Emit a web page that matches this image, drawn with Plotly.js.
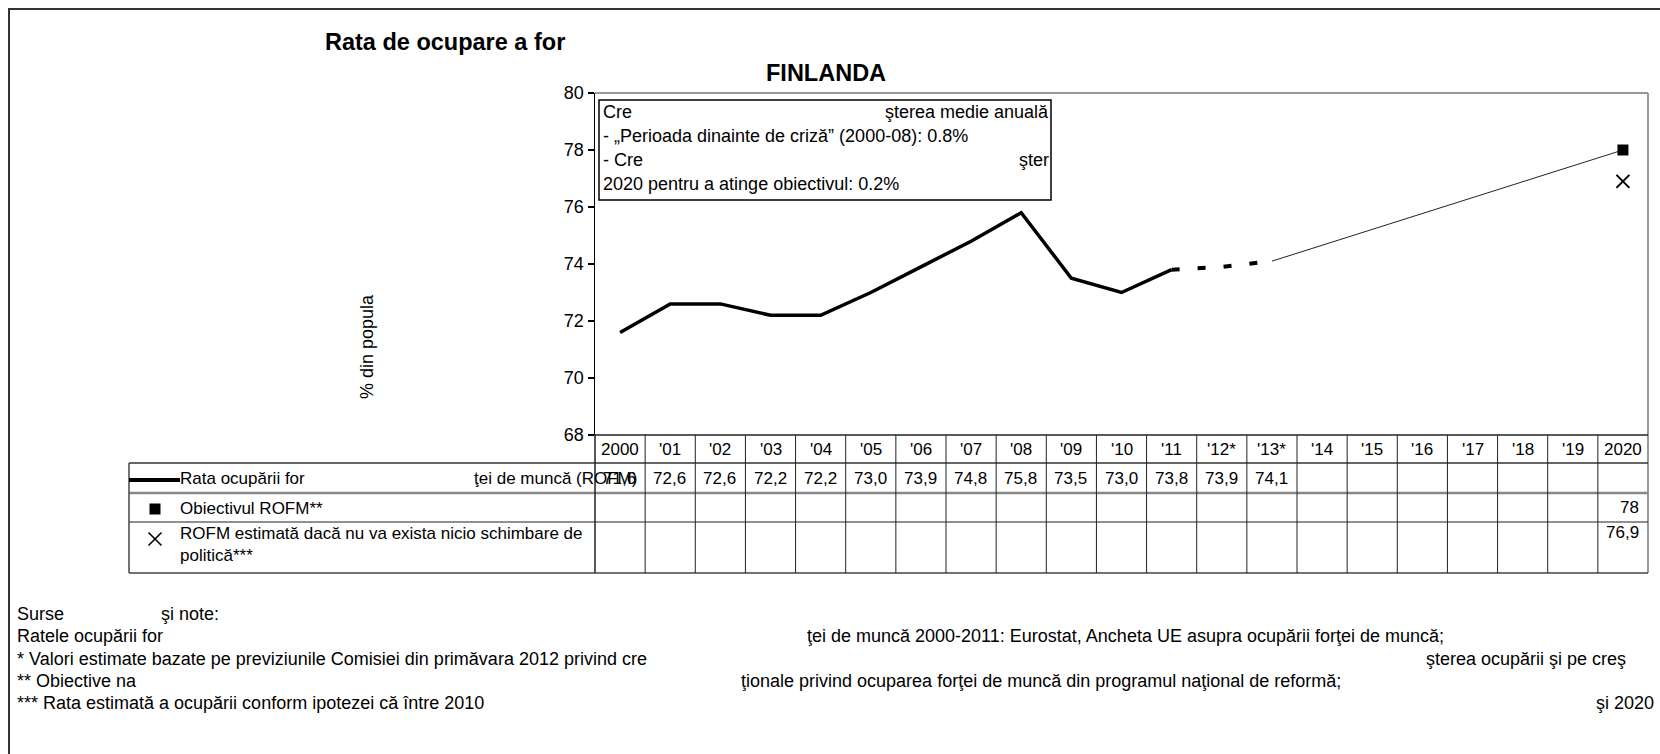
<!DOCTYPE html>
<html>
<head>
<meta charset="utf-8">
<script src="https://cdn.plot.ly/plotly-3.0.1.min.js"></script>
<style>html,body{margin:0;padding:0;background:#fff;}#chart{width:1660px;height:754px;}</style>
</head>
<body>
<div id="chart"></div>
<script>
// ---------- data ----------
const categories = ["2000","'01","'02","'03","'04","'05","'06","'07","'08","'09","'10","'11","'12*","'13*","'14","'15","'16","'17","'18","'19","2020"];
const actualCats = ["2000","'01","'02","'03","'04","'05","'06","'07","'08","'09","'10","'11"];
const actualRate = [71.6,72.6,72.6,72.2,72.2,73.0,73.9,74.8,75.8,73.5,73.0,73.8];
const estimateCats = ["'11","'12*","'13*"];
const estimateRate = [73.8,73.9,74.1];
const pathCats = ["'13*","2020"];
const pathRate = [74.1,78];
const targetCat = "2020";
const targetRate = 78;
const noChangeRate = 76.9;
const tableRate = ["71,6","72,6","72,6","72,2","72,2","73,0","73,9","74,8","75,8","73,5","73,0","73,8","73,9","74,1"];
const tableTarget = "78";
const tableNoChange = "76,9";
const yTicks = [68,70,72,74,76,78,80];

// ---------- geometry helpers (pixel -> paper) ----------
const W = 1660, H = 754;
const L = 595, R = 1648, T = 93, B = 435;
const px = x => (x - L) / (R - L);
const py = y => (B - y) / (B - T);
const FONT = "Liberation Sans, Arial, sans-serif";
const n = categories.length;
const targetIdx = categories.indexOf(targetCat);

const traces = [
  {x: actualCats, y: actualRate, type: 'scatter', mode: 'lines',
   line: {color: '#000', width: 3.5}, hoverinfo: 'skip'},
  {x: estimateCats, y: estimateRate, type: 'scatter', mode: 'lines',
   line: {color: '#000', width: 4, dash: '8px,18px'}, hoverinfo: 'skip'},
  {x: pathCats, y: pathRate, type: 'scatter', mode: 'lines',
   line: {color: '#222', width: 1}, hoverinfo: 'skip'},
  {x: [targetCat], y: [targetRate], type: 'scatter', mode: 'markers',
   marker: {symbol: 'square', size: 11, color: '#000'}, hoverinfo: 'skip'},
  {x: [targetCat], y: [noChangeRate], type: 'scatter', mode: 'markers',
   marker: {symbol: 'x-thin', size: 13, color: '#000', line: {color: '#000', width: 2}}, hoverinfo: 'skip'}
];

const shapes = [];
function hline(x0, x1, y, color, width) {
  shapes.push({type: 'line', xref: 'paper', yref: 'paper', x0: px(x0), x1: px(x1), y0: py(y), y1: py(y),
               line: {color: color, width: width}});
}
function vline(x, y0, y1, color, width) {
  shapes.push({type: 'line', xref: 'paper', yref: 'paper', x0: px(x), x1: px(x), y0: py(y0), y1: py(y1),
               line: {color: color, width: width}});
}
// outer frame
shapes.push({type: 'rect', xref: 'paper', yref: 'paper', x0: px(9), x1: px(1680), y0: py(780), y1: py(9),
             line: {color: '#333', width: 2}});
// plot frame (top + right gray)
hline(L, R, T, '#999', 2);
vline(R, T, 573, '#999', 2);
// table
const rowHeader = 435, row1 = 463, row2 = 493, row3 = 522, rowEnd = 573;
const tableLeft = 129;
hline(L, R, rowHeader, '#222', 1.5);
hline(tableLeft, R, row1, '#333', 1.5);
hline(tableLeft, R, row2, '#888', 2.5);
hline(tableLeft, R, row3, '#222', 1.2);
hline(tableLeft, R, rowEnd, '#444', 1.5);
vline(tableLeft, row1, rowEnd, '#444', 1.5);
for (let i = 0; i < n; i++) {
  const xx = L + (R - L) * i / n;
  vline(xx, rowHeader, rowEnd, '#222', i === 0 ? 1.5 : 1);
}
// annotation box
shapes.push({type: 'rect', xref: 'paper', yref: 'paper', x0: px(599), x1: px(1051), y0: py(200), y1: py(100),
             line: {color: '#000', width: 1.5}, fillcolor: '#fff'});
// legend symbols
hline(tableLeft, 180, 480, '#000', 4);
shapes.push({type: 'rect', xref: 'paper', yref: 'paper', x0: px(149.5), x1: px(160.5), y0: py(514.5), y1: py(503.5),
             line: {width: 0}, fillcolor: '#000'});
shapes.push({type: 'line', xref: 'paper', yref: 'paper', x0: px(148.5), x1: px(161.5), y0: py(532.5), y1: py(545.5), line: {color: '#000', width: 1.6}});
shapes.push({type: 'line', xref: 'paper', yref: 'paper', x0: px(148.5), x1: px(161.5), y0: py(545.5), y1: py(532.5), line: {color: '#000', width: 1.6}});

const ann = [];
function txt(text, x, y, opts) {
  ann.push(Object.assign({text: text, xref: 'paper', yref: 'paper', x: px(x), y: py(y), showarrow: false,
    xanchor: 'left', yanchor: 'middle', font: {family: FONT, size: 17, color: '#000'}}, opts || {}));
}
function cell(text, idx, y, anchor) {
  ann.push({text: text, xref: 'x', yref: 'paper', x: idx, y: py(y), showarrow: false,
            xanchor: anchor, xshift: anchor === 'right' ? 18 : 0, yanchor: 'middle',
            font: {family: FONT, size: 17, color: '#000'}});
}
// header labels and table values (x = category index on the category axis)
categories.forEach((c, i) => cell(c, i, 449, 'center'));
tableRate.forEach((v, i) => cell(v, i, 478, 'right'));
cell(tableTarget, targetIdx, 507, 'right');
cell(tableNoChange, targetIdx, 532, 'right');
// legend texts
txt("Rata ocupării for", 178, 478);
txt("ţei de muncă (ROFM)", 472, 478);
txt("Obiectivul ROFM**", 178, 508);
txt("ROFM estimată dacă nu va exista nicio schimbare de<br>politică***", 178, 544, {align: 'left'});
// box texts
const F18 = {family: FONT, size: 18, color: '#000'};
txt("Cre", 601, 112, {font: F18});
txt("şterea medie anuală", 1051, 112, {xanchor: 'right', font: F18});
txt("- „Perioada dinainte de criză” (2000-08): 0.8%", 601, 136, {font: F18});
txt("- Cre", 601, 160, {font: F18});
txt("şter", 1051, 160, {xanchor: 'right', font: F18});
txt("2020 pentru a atinge obiectivul: 0.2%", 601, 184, {font: F18});
// subtitle and y title
txt("<b>FINLANDA</b>", 826, 73, {xanchor: 'center', font: {family: FONT, size: 23.5, color: '#000'}});
txt("% din popula", 367, 347, {xanchor: 'center', textangle: -90, font: F18});
// footnotes
txt("Surse", 15, 614, {font: F18});
txt("şi note:", 159, 614, {font: F18});
txt("Ratele ocupării for", 15, 636, {font: F18});
txt("ţei de muncă 2000-2011: Eurostat, Ancheta UE asupra ocupării forţei de muncă;", 805, 636, {font: F18});
txt("* Valori estimate bazate pe previziunile Comisiei din primăvara 2012 privind cre", 15, 659, {font: F18});
txt("şterea ocupării şi pe creş", 1424, 659, {font: F18});
txt("** Obiective na", 15, 681, {font: F18});
txt("ţionale privind ocuparea forţei de muncă din programul naţional de reformă;", 739, 681, {font: F18});
txt("*** Rata estimată a ocupării conform ipotezei că între 2010", 15, 703, {font: F18});
txt("şi 2020", 1656, 703, {xanchor: 'right', font: F18});

const layout = {
  width: W, height: H,
  margin: {l: L, r: W - R, t: T, b: H - B, pad: 0},
  paper_bgcolor: '#fff', plot_bgcolor: '#fff',
  showlegend: false,
  title: {text: "Rata de ocupare a for", x: 325 / W, xanchor: 'left', xref: 'container',
          y: 1 - 42 / H, yanchor: 'middle', yref: 'container',
          font: {family: FONT, size: 23.5, color: '#000', weight: 'bold'}},
  xaxis: {type: 'category', categoryorder: 'array', categoryarray: categories, range: [-0.5, n - 0.5],
          showticklabels: false, ticks: '', showline: false, showgrid: false, zeroline: false, fixedrange: true},
  yaxis: {range: [68, 80], tickvals: yTicks, ticktext: yTicks.map(String), ticks: 'outside', ticklen: 6, tickwidth: 1.2,
          tickcolor: '#000', showline: true, linecolor: '#000', linewidth: 1.5, showgrid: false, zeroline: false,
          tickfont: F18, fixedrange: true},
  shapes: shapes,
  annotations: ann
};
Plotly.newPlot('chart', traces, layout, {displayModeBar: false, staticPlot: true});
</script>
</body>
</html>
